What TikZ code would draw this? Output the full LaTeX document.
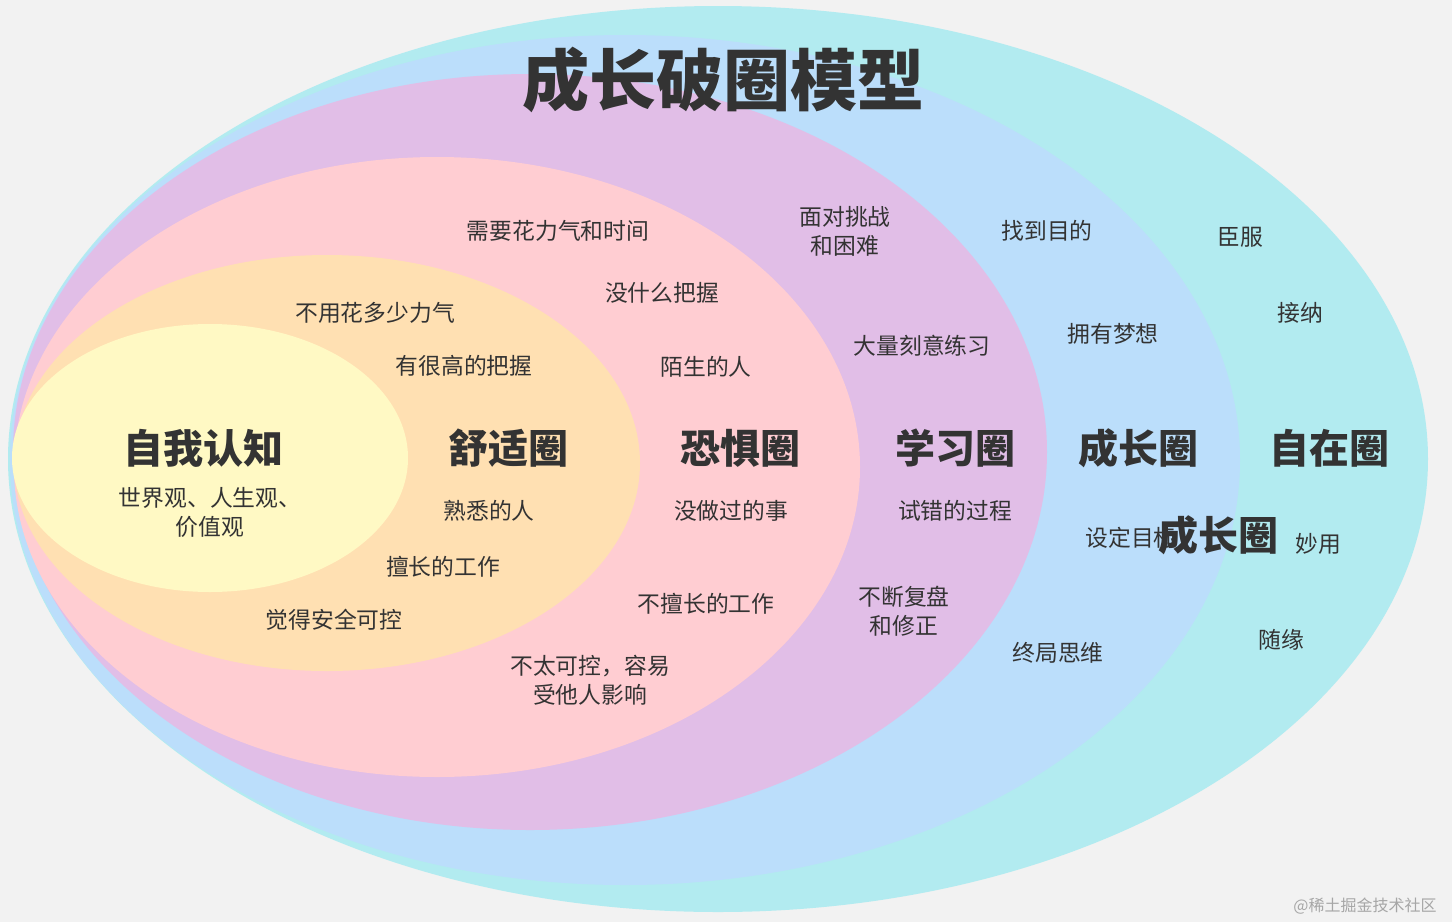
\documentclass[tikz,border=0pt]{standalone}
\usepackage{fontspec}
\setmainfont{Noto Sans CJK SC}
\usepackage{xcolor}
\definecolor{bggray}{RGB}{242,242,242}
\definecolor{zizaicyan}{RGB}{178,235,240}
\definecolor{chengzhangblue}{RGB}{187,222,251}
\definecolor{xuexipurple}{RGB}{225,190,231}
\definecolor{kongjupink}{RGB}{255,205,210}
\definecolor{shushiorange}{RGB}{255,224,178}
\definecolor{renzhiyellow}{RGB}{255,249,196}
\definecolor{txtgray}{RGB}{51,51,51}
\usetikzlibrary{positioning}

\begin{document}
\begin{tikzpicture}[x=1pt,y=-1pt]
  \tikzstyle{zone}=[text=txtgray,font=\fontsize{40}{44}\selectfont\bfseries,inner sep=0pt]
  \tikzstyle{tip}=[text=txtgray,font=\fontsize{22.8}{29}\selectfont,align=center,inner sep=0pt]
  \useasboundingbox (0,0) rectangle (1452,922);
  \fill[bggray] (0,0) rectangle (1452,922);
  \fill[zizaicyan] (718,459) ellipse [x radius=710pt,y radius=453pt];
  \fill[chengzhangblue] (625,460) ellipse [x radius=615pt,y radius=425pt];
  \fill[xuexipurple] (530,452) ellipse [x radius=517pt,y radius=378pt];
  \fill[kongjupink] (437,467) ellipse [x radius=423pt,y radius=310pt];
  \fill[shushiorange] (327,463) ellipse [x radius=313pt,y radius=208pt];
  \fill[renzhiyellow] (210,458) ellipse [x radius=198pt,y radius=134pt];
  \node[text=txtgray,font=\fontsize{67}{72}\selectfont\bfseries,inner sep=0pt] (title) at (723,80) {成长破圈模型};
  \node[zone] (renzhi) at (203,448) {自我认知};
  \node[tip] (renzhi1) at (210,512) {世界观、人生观、\\价值观};
  \node[zone] (shushi) at (508,448) {舒适圈};
  \node[tip] (shushi1) at (489,511) {熟悉的人};
  \node[tip] (shushi2) at (443,567) {擅长的工作};
  \node[tip] (shushi3) at (334,620) {觉得安全可控};
  \node[tip] (shushi4) at (375,313) {不用花多少力气};
  \node[tip] (shushi5) at (464,366) {有很高的把握};
  \node[zone] (kongju) at (740,448) {恐惧圈};
  \node[tip] (kongju1) at (731,511) {没做过的事};
  \node[tip] (kongju2) at (706,604) {不擅长的工作};
  \node[tip] (kongju3) at (590,680) {不太可控，容易\\受他人影响};
  \node[tip] (kongju4) at (558,231) {需要花力气和时间};
  \node[tip] (kongju5) at (662,293) {没什么把握};
  \node[tip] (kongju6) at (706,367) {陌生的人};
  \node[zone] (xuexi) at (955,448) {学习圈};
  \node[tip] (xuexi1) at (955,511) {试错的过程};
  \node[tip] (xuexi2) at (904,611) {不断复盘\\和修正};
  \node[tip] (xuexi3) at (845,231) {面对挑战\\和困难};
  \node[tip] (xuexi4) at (922,346) {大量刻意练习};
  \node[zone] (chengzhang) at (1138,448) {成长圈};
  \node[tip] (chengzhang1) at (1047,231) {找到目的};
  \node[tip] (chengzhang2) at (1113,334) {拥有梦想};
  \node[tip] (chengzhang3) at (1131,538) {设定目标};
  \node[tip] (chengzhang4) at (1058,653) {终局思维};
  \node[zone] (chengzhangdup) at (1218,535) {成长圈};
  \node[zone] (zizai) at (1329,448) {自在圈};
  \node[tip] (zizai1) at (1240,237) {臣服};
  \node[tip] (zizai2) at (1300,313) {接纳};
  \node[tip] (zizai3) at (1318,544) {妙用};
  \node[tip] (zizai4) at (1281,640) {随缘};
  \node[text=black!35,font=\fontsize{16}{18}\selectfont,inner sep=0pt] (mark) at (1365,906) {@稀土掘金技术社区};
\end{tikzpicture}
\end{document}
